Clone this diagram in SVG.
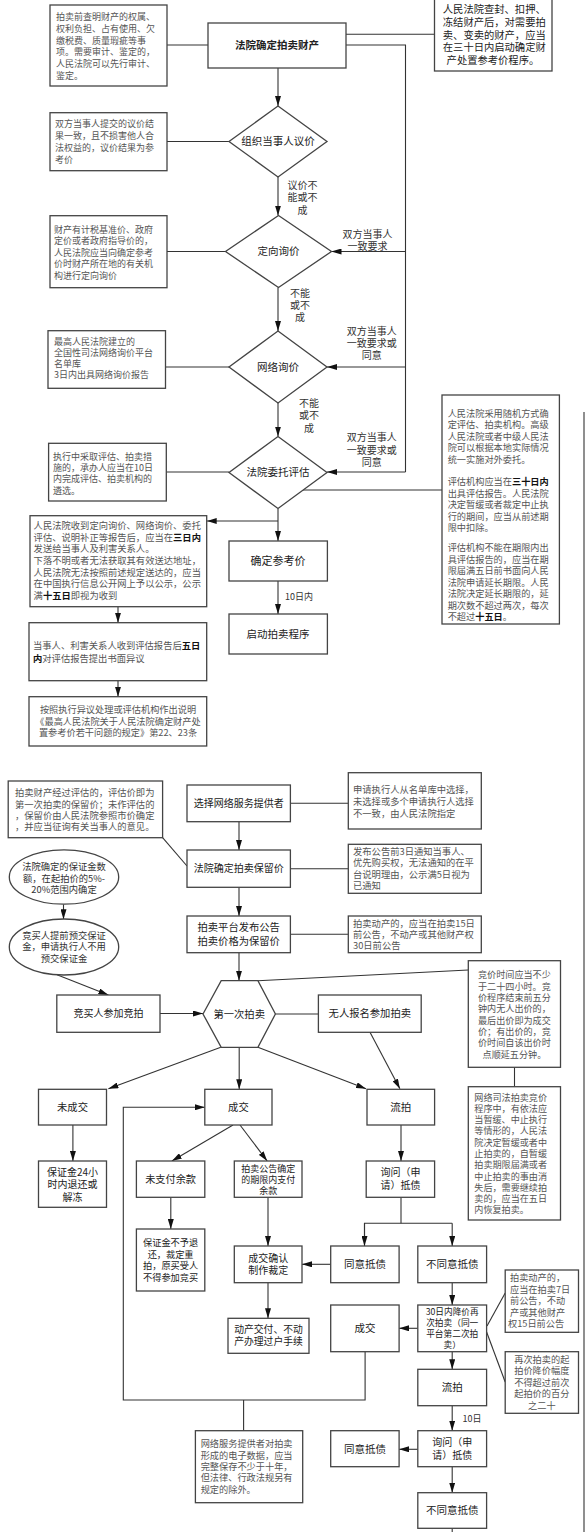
<svg xmlns="http://www.w3.org/2000/svg" width="586" height="1532" viewBox="0 0 586 1532">
<defs>
<marker id="ah" viewBox="0 0 10 6" refX="10" refY="3" markerWidth="10" markerHeight="6" markerUnits="userSpaceOnUse" orient="auto"><path d="M0,0 L10,3 L0,6 z" fill="#111"/></marker>
<style>
.bx{fill:#fff;stroke:#444;stroke-width:1.3}
.c{fill:none;stroke:#333;stroke-width:1.1}
.a{fill:none;stroke:#333;stroke-width:1.1;marker-end:url(#ah)}
text{font-family:"Noto Sans CJK SC","Noto Sans",sans-serif}
.lb{font-size:10.5px;fill:#222;text-anchor:middle}
.sl{font-size:10px;fill:#333;text-anchor:middle}
.nt{font-size:9.2px;fill:#555}
.ntc{font-size:9.2px;fill:#555;text-anchor:middle}
.b{font-weight:bold;fill:#111}
</style>
</defs>
<rect x="0" y="0" width="586" height="1532" fill="#fff"/>

<g id="connectors">
<line class="c" x1="167" y1="45" x2="208" y2="45"/>
<line class="c" x1="346" y1="34.3" x2="434.5" y2="34.3"/>
<polyline class="c" points="346,45 405.5,45 405.5,472"/>
<line class="a" x1="405.5" y1="251.5" x2="331.5" y2="251.5"/>
<line class="a" x1="405.5" y1="367" x2="327" y2="367"/>
<line class="a" x1="405.5" y1="472" x2="327" y2="472"/>
<line class="a" x1="278" y1="68" x2="278" y2="106"/>
<line class="a" x1="278" y1="177" x2="278" y2="215.5"/>
<line class="a" x1="278" y1="287.5" x2="278" y2="331"/>
<line class="a" x1="278" y1="403" x2="278" y2="436.5"/>
<line class="a" x1="278" y1="508.5" x2="278" y2="541"/>
<line class="a" x1="278" y1="521" x2="206.7" y2="521"/>
<line class="a" x1="278" y1="581" x2="278" y2="614"/>
<line class="c" x1="167" y1="141.5" x2="229" y2="141.5"/>
<line class="c" x1="167" y1="251.5" x2="225.5" y2="251.5"/>
<line class="c" x1="165.5" y1="367" x2="229" y2="367"/>
<line class="c" x1="166.3" y1="472" x2="229" y2="472"/>
<line class="c" x1="303" y1="490" x2="442" y2="490"/>
<line class="a" x1="118" y1="606.7" x2="118" y2="622.7"/>
<line class="a" x1="118" y1="680.7" x2="118" y2="696.7"/>
<line class="c" x1="584" y1="412" x2="584" y2="1532"/>

<line class="c" x1="162.6" y1="837.7" x2="187" y2="866"/>
<line class="c" x1="290.4" y1="803.3" x2="348.3" y2="803.3"/>
<line class="a" x1="239" y1="821.7" x2="239" y2="850"/>
<line class="c" x1="290.4" y1="868.7" x2="348.3" y2="868.7"/>
<line class="a" x1="239" y1="887.3" x2="239" y2="916"/>
<line class="c" x1="290.4" y1="934.3" x2="348.3" y2="934.3"/>
<line class="a" x1="239" y1="952.7" x2="239" y2="980.7"/>
<line class="a" x1="63.5" y1="904.3" x2="63.5" y2="919.3"/>
<line class="a" x1="57" y1="974.8" x2="108.4" y2="995"/>
<line class="a" x1="160" y1="1013.5" x2="203" y2="1013.5"/>
<line class="c" x1="257.9" y1="980.7" x2="468.3" y2="970"/>
<line class="c" x1="275.4" y1="1014" x2="318.4" y2="1014"/>
<line class="c" x1="514.5" y1="1067.3" x2="514.5" y2="1086.7"/>
<line class="a" x1="220.8" y1="1047.3" x2="108.4" y2="1088.8"/>
<line class="a" x1="239.2" y1="1047.3" x2="239.2" y2="1089.3"/>
<line class="a" x1="257.9" y1="1047.3" x2="366" y2="1088.8"/>
<line class="a" x1="370" y1="1032.3" x2="399.9" y2="1088.8"/>
<polyline class="a" points="365.1,1351.7 365.1,1400 123.3,1400 123.3,1107.3 204.8,1107.3"/>
<line class="c" x1="243.6" y1="1400" x2="243.6" y2="1430.7"/>
<line class="a" x1="72.9" y1="1125" x2="72.9" y2="1161"/>
<line class="a" x1="233" y1="1125" x2="171.9" y2="1161"/>
<line class="a" x1="240" y1="1125" x2="267.2" y2="1161"/>
<line class="a" x1="170.8" y1="1197.3" x2="170.8" y2="1229"/>
<line class="a" x1="268" y1="1197.3" x2="268" y2="1246"/>
<line class="a" x1="268" y1="1282.7" x2="268" y2="1318.3"/>
<line class="a" x1="401" y1="1125" x2="401" y2="1161"/>
<line class="c" x1="401" y1="1197.3" x2="401" y2="1223.3"/>
<polyline class="c" points="364.5,1246 364.5,1223.3 452.2,1223.3"/>
<line class="a" x1="364.5" y1="1223.3" x2="364.5" y2="1246"/>
<line class="a" x1="452.2" y1="1223.3" x2="452.2" y2="1246"/>
<line class="a" x1="330.7" y1="1264.3" x2="302" y2="1264.3"/>
<line class="a" x1="452.2" y1="1282.7" x2="452.2" y2="1305"/>
<line class="a" x1="417.8" y1="1328.3" x2="399.1" y2="1328.3"/>
<line class="c" x1="487" y1="1326" x2="505.2" y2="1293"/>
<line class="c" x1="486.6" y1="1332" x2="505.2" y2="1382"/>
<line class="a" x1="452.2" y1="1351.7" x2="452.2" y2="1369.3"/>
<line class="a" x1="452.2" y1="1405.7" x2="452.2" y2="1430.7"/>
<line class="a" x1="417.8" y1="1449.3" x2="399.1" y2="1449.3"/>
<line class="a" x1="452.2" y1="1466.7" x2="452.2" y2="1492.7"/>
<line class="c" x1="452.2" y1="1528.3" x2="452.2" y2="1532"/>
<text class="sl" x="302.5" y="188.6">议价不</text>
<text class="sl" x="302.5" y="201.1">能或不</text>
<text class="sl" x="302.5" y="213.6">成</text>
<text class="sl" x="367.5" y="237.6">双方当事人</text>
<text class="sl" x="367.5" y="250.3">一致要求</text>
<text class="sl" x="300" y="297.3">不能</text>
<text class="sl" x="300" y="309.3">或不</text>
<text class="sl" x="300" y="321.3">成</text>
<text class="sl" x="371.8" y="334.6">双方当事人</text>
<text class="sl" x="371.8" y="346.8">一致要求或</text>
<text class="sl" x="371.8" y="359">同意</text>
<text class="sl" x="309" y="406.9">不能</text>
<text class="sl" x="309" y="419.3">或不</text>
<text class="sl" x="309" y="431.7">成</text>
<text class="sl" x="371.8" y="441">双方当事人</text>
<text class="sl" x="371.8" y="453.5">一致要求或</text>
<text class="sl" x="371.8" y="466">同意</text>
<text class="sl" x="285" y="600" style="text-anchor:start;font-size:9px">10日内</text>
<text class="sl" x="462.6" y="1422.2" style="text-anchor:start;font-size:9px">10日</text>
</g>

<g id="n_main">
<rect class="bx" x="208" y="23" width="138" height="45"/>
<text class="lb" x="277" y="48.8" font-weight="bold">法院确定拍卖财产</text>
</g>
<g id="n_note1">
<rect class="bx" x="50" y="5" width="117" height="81"/>
<text class="nt" style="font-size:9px"><tspan x="56" y="20.2">拍卖前查明财产的权属、</tspan><tspan x="56" y="31.9">权利负担、占有使用、欠</tspan><tspan x="56" y="43.6">缴税费、质量瑕疵等事</tspan><tspan x="56" y="55.3">项。需要审计、鉴定的，</tspan><tspan x="56" y="67">人民法院可以先行审计、</tspan><tspan x="56" y="78.7">鉴定。</tspan></text>
</g>
<g id="n_topright">
<rect class="bx" x="434.5" y="-1" width="117.5" height="72"/>
<text style="font-size:10.3px;fill:#222"><tspan x="442.8" y="13.3">人民法院查封、扣押、</tspan><tspan x="442.8" y="26">冻结财产后，对需要拍</tspan><tspan x="442.8" y="38.7">卖、变卖的财产，应当</tspan><tspan x="442.8" y="51.3">在三十日内启动确定财</tspan><tspan x="446.6" y="64">产处置参考价程序。</tspan></text>
</g>
<g id="n_d1">
<polygon class="bx" points="278,106 327,141.5 278,177 229,141.5"/>
<text class="lb" x="278" y="145.3">组织当事人议价</text>
</g>
<g id="n_note2">
<rect class="bx" x="50" y="112.7" width="117" height="58"/>
<text class="nt" style="font-size:9px"><tspan x="55" y="126.5">双方当事人提交的议价结</tspan><tspan x="55" y="138.5">果一致，且不损害他人合</tspan><tspan x="55" y="150.5">法权益的，议价结果为参</tspan><tspan x="55" y="162.5">考价</tspan></text>
</g>
<g id="n_d2">
<polygon class="bx" points="278.5,215.5 331.5,251.5 278.5,287.5 225.5,251.5"/>
<text class="lb" x="278.5" y="255.3">定向询价</text>
</g>
<g id="n_note3">
<rect class="bx" x="50" y="215.7" width="117" height="72"/>
<text class="nt" style="font-size:9px"><tspan x="54" y="232.5">财产有计税基准价、政府</tspan><tspan x="54" y="244">定价或者政府指导价的，</tspan><tspan x="54" y="255.5">人民法院应当向确定参考</tspan><tspan x="54" y="267">价时财产所在地的有关机</tspan><tspan x="54" y="278.5">构进行定向询价</tspan></text>
</g>
<g id="n_d3">
<polygon class="bx" points="278,331 327,367 278,403 229,367"/>
<text class="lb" x="278" y="370.8">网络询价</text>
</g>
<g id="n_note4">
<rect class="bx" x="48" y="330.7" width="117.5" height="57.6"/>
<text class="nt" style="font-size:9px"><tspan x="54" y="344.9">最高人民法院建立的</tspan><tspan x="54" y="356">全国性司法网络询价平台</tspan><tspan x="54" y="367.1">名单库</tspan><tspan x="54" y="378.2">3日内出具网络询价报告</tspan></text>
</g>
<g id="n_d4">
<polygon class="bx" points="278,436.5 327,472.5 278,508.5 229,472.5"/>
<text class="lb" x="278" y="476.3">法院委托评估</text>
</g>
<g id="n_note5">
<rect class="bx" x="48.6" y="443.3" width="117.7" height="57.7"/>
<text class="nt" style="font-size:9px"><tspan x="53" y="459.9">执行中采取评估、拍卖措</tspan><tspan x="53" y="471.1">施的，承办人应当在10日</tspan><tspan x="53" y="482.3">内完成评估、拍卖机构的</tspan><tspan x="53" y="493.5">遴选。</tspan></text>
</g>
<g id="n_eval">
<rect class="bx" x="442" y="395" width="117.4" height="229"/>
<text class="nt"><tspan x="447.7" y="416.6">人民法院采用随机方式确</tspan><tspan x="447.7" y="428.1">定评估、拍卖机构。高级</tspan><tspan x="447.7" y="439.6">人民法院或者中级人民法</tspan><tspan x="447.7" y="451.1">院可以根据本地实际情况</tspan><tspan x="447.7" y="462.6">统一实施对外委托。</tspan><tspan x="447.7" y="485">评估机构应当在<tspan class="b">三十日内</tspan></tspan><tspan x="447.7" y="496.5">出具评估报告。人民法院</tspan><tspan x="447.7" y="508">决定暂缓或者裁定中止执</tspan><tspan x="447.7" y="519.5">行的期间，应当从前述期</tspan><tspan x="447.7" y="531">限中扣除。</tspan><tspan x="447.7" y="551">评估机构不能在期限内出</tspan><tspan x="447.7" y="562.5">具评估报告的，应当在期</tspan><tspan x="447.7" y="574">限届满五日前书面向人民</tspan><tspan x="447.7" y="585.5">法院申请延长期限。人民</tspan><tspan x="447.7" y="597">法院决定延长期限的，延</tspan><tspan x="447.7" y="608.5">期次数不超过两次，每次</tspan><tspan x="447.7" y="620">不超过<tspan class="b">十五日</tspan>。</tspan></text>
</g>
<g id="n_send">
<rect class="bx" x="30" y="515.7" width="176.7" height="91"/>
<text class="nt" style="font-size:9.3px"><tspan x="33.6" y="529">人民法院收到定向询价、网络询价、委托</tspan><tspan x="33.6" y="540.7">评估、说明补正等报告后，应当在<tspan class="b">三日内</tspan></tspan><tspan x="33.6" y="552.4">发送给当事人及利害关系人。</tspan><tspan x="33.6" y="564">下落不明或者无法获取其有效送达地址，</tspan><tspan x="33.6" y="575.7">人民法院无法按照前述规定送达的，应当</tspan><tspan x="33.6" y="587.3">在中国执行信息公开网上予以公示，公示</tspan><tspan x="33.6" y="599">满<tspan class="b">十五日</tspan>即视为收到</tspan></text>
</g>
<g id="n_ref">
<rect class="bx" x="229" y="541" width="98.4" height="40"/>
<text class="lb" x="278" y="565" style="font-size:11px">确定参考价</text>
</g>
<g id="n_start">
<rect class="bx" x="229" y="614" width="98.4" height="40"/>
<text class="lb" x="278" y="637.8">启动拍卖程序</text>
</g>
<g id="n_objection">
<rect class="bx" x="29" y="622.7" width="177.7" height="58"/>
<text class="nt" style="font-size:9.3px"><tspan x="33" y="649.4">当事人、利害关系人收到评估报告后<tspan class="b">五日</tspan></tspan><tspan x="33" y="661.7"><tspan class="b">内</tspan>对评估报告提出书面异议</tspan></text>
</g>
<g id="n_handle">
<rect class="bx" x="29" y="696.7" width="177.7" height="49.3"/>
<text class="ntc"><tspan x="118" y="713.3">按照执行异议处理或评估机构作出说明</tspan><tspan x="118" y="724.6">《最高人民法院关于人民法院确定财产处</tspan><tspan x="118" y="735.9">置参考价若干问题的规定》第22、23条</tspan></text>
</g>

<g id="n_reserve_note">
<rect class="bx" x="8.2" y="781" width="154.4" height="56.7"/>
<text class="nt" style="font-size:9.3px"><tspan x="15" y="796.3">拍卖财产经过评估的，评估价即为</tspan><tspan x="15" y="807.6">第一次拍卖的保留价；未作评估的</tspan><tspan x="15" y="818.9">，保留价由人民法院参照市价确定</tspan><tspan x="15" y="830.2">，并应当征询有关当事人的意见。</tspan></text>
</g>
<g id="n_provider">
<rect class="bx" x="187" y="785" width="103.4" height="36.7"/>
<text class="lb" x="238.7" y="806.9" style="font-size:10px">选择网络服务提供者</text>
</g>
<g id="n_provider_note">
<rect class="bx" x="348.3" y="772.7" width="133" height="56.3"/>
<text class="nt" style="font-size:9.3px"><tspan x="353" y="792.8">申请执行人从名单库中选择，</tspan><tspan x="353" y="804.8">未选择或多个申请执行人选择</tspan><tspan x="353" y="816.8">不一致，由人民法院指定</tspan></text>
</g>
<g id="n_reserve">
<rect class="bx" x="187" y="850" width="103.4" height="37.3"/>
<text class="lb" x="238.7" y="872.3" style="font-size:10px">法院确定拍卖保留价</text>
</g>
<g id="n_notify_note">
<rect class="bx" x="348.3" y="844.3" width="133" height="49"/>
<text class="nt" style="font-size:9.3px"><tspan x="353" y="855">发布公告前3日通知当事人、</tspan><tspan x="353" y="866.3">优先购买权，无法通知的在平</tspan><tspan x="353" y="877.6">台说明理由，公示满5日视为</tspan><tspan x="353" y="888.9">已通知</tspan></text>
</g>
<g id="n_announce">
<rect class="bx" x="187" y="916" width="103.4" height="36.7"/>
<text class="lb" style="font-size:10.3px"><tspan x="238.7" y="931.4">拍卖平台发布公告</tspan><tspan x="238.7" y="945.2">拍卖价格为保留价</tspan></text>
</g>
<g id="n_announce_note">
<rect class="bx" x="348.3" y="916" width="133" height="36.7"/>
<text class="nt" style="font-size:9.3px"><tspan x="353" y="926.6">拍卖动产的，应当在拍卖15日</tspan><tspan x="353" y="937.8">前公告，不动产或其他财产权</tspan><tspan x="353" y="949">30日前公告</tspan></text>
</g>
<g id="n_deposit">
<ellipse class="bx" cx="64" cy="877" rx="54.7" ry="27.2"/>
<text class="ntc" style="font-size:9.3px;fill:#333"><tspan x="64" y="870">法院确定的保证金数</tspan><tspan x="64" y="881.5">额，在起拍价的5%-</tspan><tspan x="64" y="893">20%范围内确定</tspan></text>
</g>
<g id="n_prepay">
<ellipse class="bx" cx="64" cy="947" rx="54.7" ry="28"/>
<text class="ntc" style="font-size:9.3px;fill:#333"><tspan x="64" y="939">竞买人提前预交保证</tspan><tspan x="64" y="950.3">金，申请执行人不用</tspan><tspan x="64" y="961.6">预交保证金</tspan></text>
</g>
<g id="n_bidder">
<rect class="bx" x="56.8" y="995" width="103.2" height="37.3"/>
<text class="lb" x="108.4" y="1017.3" style="font-size:10px">竞买人参加竞拍</text>
</g>
<g id="n_first">
<polygon class="bx" points="203,1014 221.2,980.7 257.9,980.7 275.4,1014 257.9,1047.3 221.2,1047.3"/>
<text class="lb" x="239.2" y="1017.7" style="font-size:10.3px">第一次拍卖</text>
</g>
<g id="n_nobody">
<rect class="bx" x="318.4" y="995" width="102.8" height="37.3"/>
<text class="lb" x="369.8" y="1017.4" style="font-size:10.3px">无人报名参加拍卖</text>
</g>
<g id="n_bidtime">
<rect class="bx" x="468.3" y="960.7" width="92.2" height="106.6"/>
<text class="ntc" style="font-size:9.1px"><tspan x="514.4" y="978.3">竞价时间应当不少</tspan><tspan x="514.4" y="989.6">于二十四小时。竞</tspan><tspan x="514.4" y="1000.9">价程序结束前五分</tspan><tspan x="514.4" y="1012.3">钟内无人出价的，</tspan><tspan x="514.4" y="1023.6">最后出价即为成交</tspan><tspan x="514.4" y="1034.9">价；有出价的，竞</tspan><tspan x="514.4" y="1046.3">价时间自该出价时</tspan><tspan x="514.4" y="1057.6">点顺延五分钟。</tspan></text>
</g>
<g id="n_suspend">
<rect class="bx" x="468.3" y="1086.7" width="92.2" height="133.3"/>
<text class="nt" style="font-size:9.1px"><tspan x="474.3" y="1100.6">网络司法拍卖竞价</tspan><tspan x="474.3" y="1111.9">程序中，有依法应</tspan><tspan x="474.3" y="1123.2">当暂缓、中止执行</tspan><tspan x="474.3" y="1134.4">等情形的，人民法</tspan><tspan x="474.3" y="1145.7">院决定暂缓或者中</tspan><tspan x="474.3" y="1157">止拍卖的，自暂缓</tspan><tspan x="474.3" y="1168.2">拍卖期限届满或者</tspan><tspan x="474.3" y="1179.5">中止拍卖的事由消</tspan><tspan x="474.3" y="1190.8">失后，需要继续拍</tspan><tspan x="474.3" y="1202">卖的，应当在五日</tspan><tspan x="474.3" y="1213.3">内恢复拍卖。</tspan></text>
</g>
<g id="n_nodeal">
<rect class="bx" x="38.5" y="1089.3" width="68" height="35.7"/>
<text class="lb" x="72.5" y="1111" style="font-size:10.3px">未成交</text>
</g>
<g id="n_deal">
<rect class="bx" x="204.8" y="1089.3" width="67.2" height="35.7"/>
<text class="lb" x="238.4" y="1111" style="font-size:10.3px">成交</text>
</g>
<g id="n_fail">
<rect class="bx" x="367" y="1089.3" width="67.6" height="35.7"/>
<text class="lb" x="400.8" y="1111.1">流拍</text>
</g>
<g id="n_refund">
<rect class="bx" x="38.5" y="1161" width="68" height="46.3"/>
<text class="lb" style="font-size:10px"><tspan x="72.5" y="1176">保证金24小</tspan><tspan x="72.5" y="1188.3">时内退还或</tspan><tspan x="72.5" y="1200.6">解冻</tspan></text>
</g>
<g id="n_unpaid">
<rect class="bx" x="136.4" y="1161" width="68.4" height="36.3"/>
<text class="lb" x="170.6" y="1183" style="font-size:10.2px">未支付余款</text>
</g>
<g id="n_paid">
<rect class="bx" x="234.3" y="1161" width="67.7" height="36.3"/>
<text class="lb" style="font-size:9px"><tspan x="268.2" y="1172">拍卖公告确定</tspan><tspan x="268.2" y="1183.2">的期限内支付</tspan><tspan x="268.2" y="1194.4">余款</tspan></text>
</g>
<g id="n_forfeit">
<rect class="bx" x="136.4" y="1229" width="68.4" height="62"/>
<text class="lb" style="font-size:9.2px"><tspan x="170.6" y="1246.2">保证金不予退</tspan><tspan x="170.6" y="1257.8">还，裁定重</tspan><tspan x="170.6" y="1269.4">拍，原买受人</tspan><tspan x="170.6" y="1281">不得参加竞买</tspan></text>
</g>
<g id="n_confirm">
<rect class="bx" x="234.3" y="1246" width="67.7" height="36.7"/>
<text class="lb" style="font-size:10px"><tspan x="268.2" y="1261.9">成交确认</tspan><tspan x="268.2" y="1274.3">制作裁定</tspan></text>
</g>
<g id="n_deliver">
<rect class="bx" x="228" y="1318.3" width="81" height="35"/>
<text class="lb" style="font-size:9.8px"><tspan x="268.5" y="1332.8">动产交付、不动</tspan><tspan x="268.5" y="1345.2">产办理过户手续</tspan></text>
</g>
<g id="n_ask1">
<rect class="bx" x="366.2" y="1161" width="68.4" height="36.3"/>
<text class="lb" style="font-size:10px"><tspan x="400.4" y="1176.3">询问（申</tspan><tspan x="400.4" y="1188.6">请）抵债</tspan></text>
</g>
<g id="n_agree1">
<rect class="bx" x="330.7" y="1246" width="68.4" height="36.7"/>
<text class="lb" x="364.9" y="1268.1">同意抵债</text>
</g>
<g id="n_disagree1">
<rect class="bx" x="417.8" y="1246" width="68.8" height="36.7"/>
<text class="lb" x="452.2" y="1268.1">不同意抵债</text>
</g>
<g id="n_second">
<rect class="bx" x="417.8" y="1305" width="68.8" height="46.7"/>
<text class="lb" style="font-size:8.7px"><tspan x="452.2" y="1315.2">30日内降价再</tspan><tspan x="452.2" y="1326">次拍卖（同一</tspan><tspan x="452.2" y="1336.8">平台第二次拍</tspan><tspan x="452.2" y="1347.6">卖）</tspan></text>
</g>
<g id="n_deal2">
<rect class="bx" x="330.7" y="1305" width="68.4" height="46.7"/>
<text class="lb" x="364.9" y="1332.1">成交</text>
</g>
<g id="n_second_note">
<rect class="bx" x="505.2" y="1270" width="73.3" height="62.3"/>
<text class="nt"><tspan x="510" y="1281">拍卖动产的，</tspan><tspan x="510" y="1292.6">应当在拍卖7日</tspan><tspan x="510" y="1304.2">前公告，不动</tspan><tspan x="510" y="1315.8">产或其他财产</tspan><tspan x="508" y="1327.4">权15日前公告</tspan></text>
</g>
<g id="n_discount_note">
<rect class="bx" x="505.2" y="1351.7" width="73.3" height="61.6"/>
<text class="ntc"><tspan x="541.8" y="1362.6">再次拍卖的起</tspan><tspan x="541.8" y="1374.1">拍价降价幅度</tspan><tspan x="541.8" y="1385.6">不得超过前次</tspan><tspan x="541.8" y="1397.1">起拍价的百分</tspan><tspan x="541.8" y="1408.6">之二十</tspan></text>
</g>
<g id="n_fail2">
<rect class="bx" x="417.8" y="1369.3" width="68.8" height="36.4"/>
<text class="lb" x="452.2" y="1391.3">流拍</text>
</g>
<g id="n_ask2">
<rect class="bx" x="417.8" y="1430.7" width="68.8" height="36"/>
<text class="lb" style="font-size:10px"><tspan x="452.2" y="1446.3">询问（申</tspan><tspan x="452.2" y="1458.6">请）抵债</tspan></text>
</g>
<g id="n_agree2">
<rect class="bx" x="330.7" y="1430.7" width="68.4" height="36"/>
<text class="lb" x="364.9" y="1452.5">同意抵债</text>
</g>
<g id="n_disagree2">
<rect class="bx" x="417.8" y="1492.7" width="68.8" height="35.6"/>
<text class="lb" x="452.2" y="1514.3">不同意抵债</text>
</g>
<g id="n_data_note">
<rect class="bx" x="195.4" y="1430.7" width="107.3" height="72"/>
<text class="nt"><tspan x="200.7" y="1447.3">网络服务提供者对拍卖</tspan><tspan x="200.7" y="1458.6">形成的电子数据，应当</tspan><tspan x="200.7" y="1469.9">完整保存不少于十年，</tspan><tspan x="200.7" y="1481.2">但法律、行政法规另有</tspan><tspan x="200.7" y="1492.5">规定的除外。</tspan></text>
</g>
</svg>
